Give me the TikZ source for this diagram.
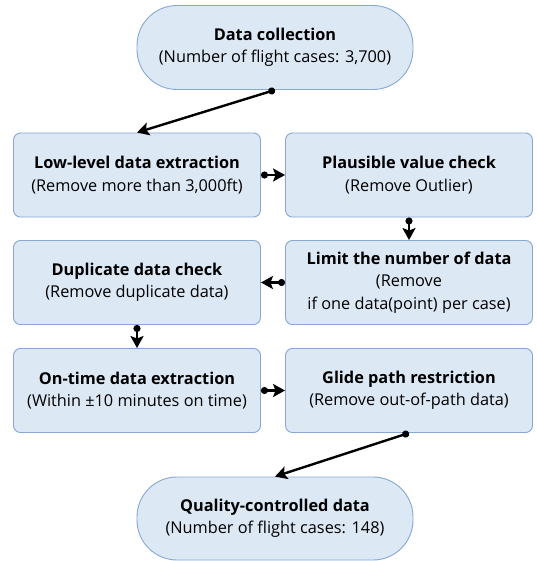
\documentclass[tikz,border=0pt]{standalone}
\usepackage{fontspec}
\setmainfont{Open Sans}
\usetikzlibrary{arrows.meta}
\definecolor{boxfill}{HTML}{DDE8F5}
\definecolor{boxline}{HTML}{86A8D3}
\tikzset{
  stage/.style={draw=boxline, fill=boxfill, line width=0.9pt, rounded corners=7pt,
    minimum width=247pt, minimum height=84pt, align=center, inner sep=2pt,
    font=\fontsize{16.3}{22.5}\selectfont},
  terminal/.style={stage, rounded corners=40pt, minimum width=276pt},
  flow/.style={line width=2.4pt, {Circle[length=7pt]}-{Stealth[length=12pt,width=13pt,inset=2.5pt]}},
}
\begin{document}
\begin{tikzpicture}[x=1pt,y=-1pt]
\useasboundingbox (0,0) rectangle (536,561);
\node[terminal] (collect) at (275,47.5) {\textbf{Data collection}\\(Number of flight cases: 3,700)};
\node[stage] (lowlevel) at (137,175) {\textbf{Low-level data extraction}\\(Remove more than 3,000ft)};
\node[stage] (plaus) at (409,175) {\textbf{Plausible value check}\\(Remove Outlier)};
\node[stage] (limit) at (409,282.5) {\textbf{Limit the number of data}\\(Remove\\if one data(point) per case)};
\node[stage] (dup) at (137,282.5) {\textbf{Duplicate data check}\\(Remove duplicate data)};
\node[stage] (ontime) at (137,390.5) {\textbf{On-time data extraction}\\(Within ±10 minutes on time)};
\node[stage] (glide) at (409,390.5) {\textbf{Glide path restriction}\\(Remove out-of-path data)};
\node[terminal, minimum height=83pt] (quality) at (275,518.5) {\textbf{Quality-controlled data}\\(Number of flight cases: 148)};
\draw[flow] (collect.south) -- (lowlevel.north);
\draw[flow] (lowlevel.east) -- (plaus.west);
\draw[flow] (plaus.south) -- (limit.north);
\draw[flow] (limit.west) -- (dup.east);
\draw[flow] (dup.south) -- (ontime.north);
\draw[flow] (ontime.east) -- (glide.west);
\draw[flow] (glide.south) -- (quality.north);
\end{tikzpicture}
\end{document}
